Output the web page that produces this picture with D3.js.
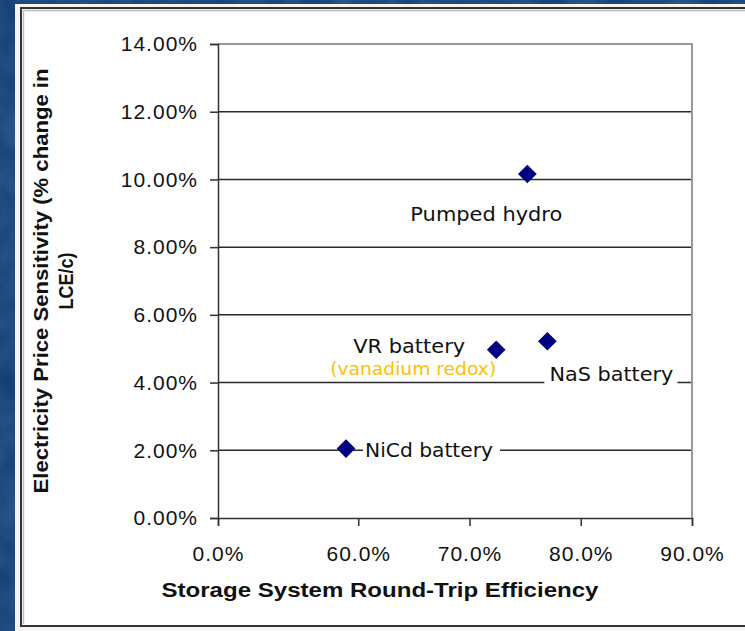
<!DOCTYPE html>
<html>
<head>
<meta charset="utf-8">
<script src="https://cdn.jsdelivr.net/npm/d3@7"></script>
<style>
  html, body { margin: 0; padding: 0; background: #0f3f78; }
  svg { display: block; }
</style>
</head>
<body>
<svg id="chart" width="745" height="631"></svg>
<script>
// ---- data ----
const technologies = ["Pumped hydro", "VR battery", "NaS battery", "NiCd battery"];
const efficiency   = [0.752, 0.724, 0.770, 0.589];   // round-trip efficiency
const sensitivity  = [0.1016, 0.0497, 0.0522, 0.0205]; // % change in LCE/c
const xTickValues  = [0, 0.6, 0.7, 0.8, 0.9];
const yTickValues  = [0, 0.02, 0.04, 0.06, 0.08, 0.10, 0.12, 0.14];
const xTitle = "Storage System Round-Trip Efficiency";
const yTitleLines = ["Electricity Price Sensitivity (% change in", "LCE/c)"];
const subLabel = "(vanadium redox)";

const svg = d3.select("#chart");

// background texture
const defs = svg.append("defs");
const f = defs.append("filter").attr("id", "tex").attr("x", 0).attr("y", 0).attr("width", 1).attr("height", 1);
f.append("feTurbulence").attr("type", "fractalNoise").attr("baseFrequency", 0.03).attr("numOctaves", 3).attr("seed", 4).attr("result", "n");
f.append("feColorMatrix").attr("in", "n").attr("type", "matrix")
  .attr("values", "0 0 0 0 0.25  0 0 0 0 0.45  0 0 0 0 0.75  0 0 0 0.35 0");
svg.append("rect").attr("width", 745).attr("height", 631).attr("fill", "#0e3a70");
svg.append("rect").attr("width", 745).attr("height", 631).attr("filter", "url(#tex)").attr("opacity", 0.8);

// white panel
svg.append("rect").attr("x", 15).attr("y", 4).attr("width", 740).attr("height", 627).attr("fill", "#f4f4f4");
svg.append("rect").attr("x", 21).attr("y", 8).attr("width", 730).attr("height", 618)
  .attr("fill", "#ffffff").attr("stroke", "#333").attr("stroke-width", 2);
svg.append("path").attr("d", "M23.5,624 V10.5 H751").attr("fill", "none").attr("stroke", "#bbb").attr("stroke-width", 1.5);

// scales (broken x axis: 0 then 50%..90%)
const x = d3.scaleLinear().domain([0, 0.5, 0.9]).range([218, 247, 692]);
const y = d3.scaleLinear().domain([0, 0.14]).range([518, 44]);

const plot = svg.append("g");

// gridlines
plot.append("g").selectAll("line")
  .data(yTickValues.filter(v => v > 0 && v < 0.14))
  .join("line")
  .attr("x1", x(0)).attr("x2", x(0.9))
  .attr("y1", d => y(d)).attr("y2", d => y(d))
  .attr("stroke", "#2a2a2a").attr("stroke-width", 1.5);

// top & right border (gray)
plot.append("path")
  .attr("d", `M${x(0)},${y(0.14)} H${x(0.9)} V${y(0)}`)
  .attr("fill", "none").attr("stroke", "#999").attr("stroke-width", 2);

// y axis
const yAxis = d3.axisLeft(y).tickValues(yTickValues).tickFormat(d3.format(".2%")).tickSize(8).tickPadding(12);
const gy = plot.append("g").attr("transform", `translate(${x(0)},0)`).call(yAxis);
gy.select(".domain").attr("stroke", "#333").attr("stroke-width", 1.5);
gy.selectAll(".tick line").attr("stroke", "#333").attr("stroke-width", 1.5);
gy.selectAll("text").attr("font-family", "Liberation Sans, Arial, sans-serif").attr("font-size", 21)
  .attr("letter-spacing", 1).attr("fill", "#111");

// x axis
const xAxis = d3.axisBottom(x).tickValues(xTickValues).tickFormat(d3.format(".1%")).tickSize(8);
const gx = plot.append("g").attr("transform", `translate(0,${y(0)})`).call(xAxis);
gx.select(".domain").attr("stroke", "#333").attr("stroke-width", 1.5);
gx.selectAll(".tick line").attr("stroke", "#333").attr("stroke-width", 1.5);
gx.selectAll("text").attr("font-family", "Liberation Sans, Arial, sans-serif").attr("font-size", 21)
  .attr("letter-spacing", 1).attr("fill", "#111").attr("y", 43).attr("dy", 0);

// axis titles
svg.append("text").attr("x", 380).attr("y", 597).attr("text-anchor", "middle")
  .attr("font-family", "Liberation Sans, Arial, sans-serif").attr("font-weight", "bold").attr("font-size", 21)
  .attr("textLength", 437).attr("lengthAdjust", "spacingAndGlyphs").attr("fill", "#111").text(xTitle);

const yTitle = svg.append("g").attr("transform", "translate(0,281) rotate(-90)");
yTitle.selectAll("text").data(yTitleLines).join("text")
  .attr("x", 0).attr("y", (d, i) => 48 + i * 25)
  .attr("text-anchor", "middle")
  .attr("font-family", "Liberation Sans, Arial, sans-serif").attr("font-weight", "bold").attr("font-size", 21)
  .attr("textLength", (d, i) => i === 0 ? 425 : 57).attr("lengthAdjust", "spacingAndGlyphs")
  .attr("fill", "#111").text(d => d);

// data labels (layout offsets relative to each point)
const labelLayout = [
  { dx: -41, dy: 47, anchor: "middle", len: 152, bg: false },
  { dx: -87, dy: 3,  anchor: "middle", len: 112, bg: false },
  { dx: 2,   dy: 40, anchor: "start",  len: 124, bg: true, bx0: -3, bx1: 130 },
  { dx: 19,  dy: 8,  anchor: "start",  len: 128, bg: true, bx0: 17, bx1: 154 }
];
const labelFont = "DejaVu Sans, Verdana, sans-serif";
const labels = plot.append("g");
technologies.forEach((t, i) => {
  const px = x(efficiency[i]), py = y(sensitivity[i]);
  const L = labelLayout[i];
  if (L.bg) {
    labels.append("rect").attr("x", px + L.bx0).attr("y", py + L.dy - 17)
      .attr("width", L.bx1 - L.bx0).attr("height", 22).attr("fill", "#fff");
  }
  labels.append("text").attr("x", px + L.dx).attr("y", py + L.dy)
    .attr("text-anchor", L.anchor).attr("font-family", labelFont).attr("font-size", 20)
    .attr("textLength", L.len).attr("lengthAdjust", "spacingAndGlyphs")
    .attr("fill", "#111").text(t);
  if (i === 1) {
    labels.append("text").attr("x", px - 83).attr("y", py + 25)
      .attr("text-anchor", "middle").attr("font-family", labelFont).attr("font-size", 18)
      .attr("textLength", 166).attr("lengthAdjust", "spacingAndGlyphs")
      .attr("fill", "#FFC000").text(subLabel);
  }
});

// markers
plot.append("g").selectAll("path")
  .data(technologies.map((t, i) => [efficiency[i], sensitivity[i]]))
  .join("path")
  .attr("d", d3.symbol().type(d3.symbolSquare).size(175))
  .attr("transform", d => `translate(${x(d[0])},${y(d[1])}) rotate(45)`)
  .attr("fill", "#000080");
</script>
</body>
</html>
